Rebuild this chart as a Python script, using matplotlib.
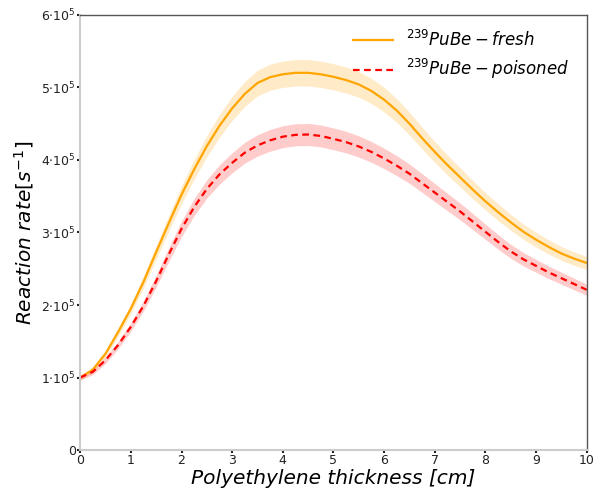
import numpy as np
import matplotlib
matplotlib.use("Agg")
import matplotlib.pyplot as plt
from matplotlib.ticker import FixedLocator, FixedFormatter

# polyethylene thickness [cm]
thickness = [0, 0.25, 0.5, 0.75, 1.0, 1.25, 1.5, 1.75, 2.0, 2.25, 2.5, 2.75, 3.0,
             3.25, 3.5, 3.75, 4.0, 4.25, 4.5, 4.75, 5.0, 5.25, 5.5, 5.75, 6.0,
             6.25, 6.5, 6.75, 7.0, 7.25, 7.5, 7.75, 8.0, 8.25, 8.5, 8.75, 9.0,
             9.25, 9.5, 9.75, 10]

# reaction rate in units of 1e5 s^-1
rate_fresh = [1.00, 1.11, 1.33, 1.63, 1.95, 2.32, 2.73, 3.13, 3.52, 3.87, 4.19, 4.47, 4.71,
              4.91, 5.06, 5.14, 5.18, 5.20, 5.20, 5.18, 5.145, 5.10, 5.04, 4.95, 4.83,
              4.68, 4.50, 4.30, 4.11, 3.93, 3.76, 3.59, 3.43, 3.28, 3.14, 3.01, 2.90,
              2.80, 2.71, 2.64, 2.58]
rate_poisoned = [1.00, 1.08, 1.24, 1.45, 1.70, 1.99, 2.33, 2.70, 3.05, 3.35, 3.60, 3.80, 3.96,
                 4.10, 4.20, 4.27, 4.32, 4.345, 4.35, 4.33, 4.29, 4.245, 4.185, 4.11, 4.02,
                 3.92, 3.81, 3.68, 3.55, 3.42, 3.29, 3.15, 3.01, 2.87, 2.74, 2.63, 2.54,
                 2.45, 2.37, 2.29, 2.21]
rel_err = 0.035  # relative half width of the shaded band

ytick_vals = [0, 1e5, 2e5, 3e5, 4e5, 5e5, 6e5]
ytick_labels = ["0", r"$1{\cdot}10^5$", r"$2{\cdot}10^5$", r"$3{\cdot}10^5$",
                r"$4{\cdot}10^5$", r"$5{\cdot}10^5$", r"$6{\cdot}10^5$"]

x = np.array(thickness)
fresh = np.array(rate_fresh) * 1e5
pois = np.array(rate_poisoned) * 1e5

fig = plt.figure(figsize=(6.03, 4.92), dpi=100)
ax = fig.add_axes([0.133, 0.085, 0.84, 0.885])

ax.fill_between(x, fresh * (1 - rel_err), fresh * (1 + rel_err), color="orange", alpha=0.22, lw=0)
ax.fill_between(x, pois * (1 - rel_err), pois * (1 + rel_err), color="red", alpha=0.2, lw=0)
ax.plot(x, fresh, color="orange", lw=1.6, label=r"$^{239}PuBe-fresh$")
ax.plot(x, pois, color="red", lw=1.6, ls="--", dashes=(3, 2), label=r"$^{239}PuBe-poisoned$")

ax.set_xlim(0, 10)
ax.set_ylim(0, 6e5)
ax.set_xticks(range(11))
ax.yaxis.set_major_locator(FixedLocator(ytick_vals))
ax.yaxis.set_major_formatter(FixedFormatter(ytick_labels))
ax.tick_params(length=2, width=1.5, labelsize=9, colors="#222222", pad=1)

for side in ["left", "bottom"]:
    ax.spines[side].set_color("#cccccc")
    ax.spines[side].set_linewidth(1.5)
for side in ["top", "right"]:
    ax.spines[side].set_color("#555555")
    ax.spines[side].set_linewidth(1.0)

ax.set_xlabel("Polyethylene thickness [cm]", fontsize=14.5, style="italic", labelpad=1)
ax.set_ylabel(r"Reaction rate$[s^{-1}]$", fontsize=14.5, style="italic", labelpad=4)

ax.legend(loc="upper right", frameon=False, fontsize=12, handlelength=2.4,
          borderaxespad=0.5, labelspacing=0.45, bbox_to_anchor=(0.995, 1.0))

fig.savefig("out.png", dpi=100)
